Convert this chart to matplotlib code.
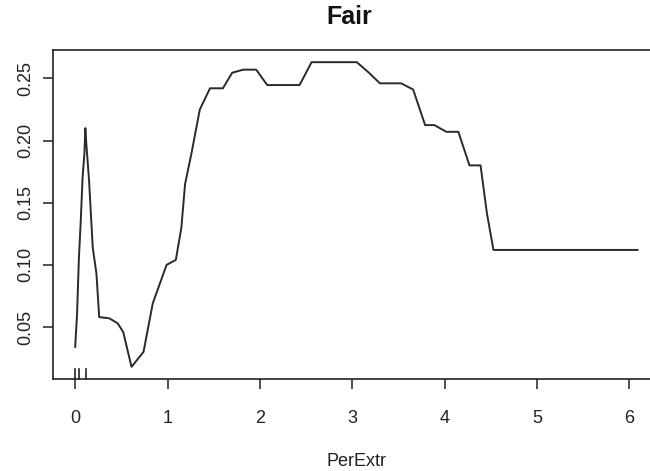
import matplotlib
matplotlib.use('Agg')
import matplotlib.pyplot as plt

# partial dependence style curve
per_extr = [0, 0.02, 0.04, 0.06, 0.08, 0.10, 0.11, 0.12, 0.15, 0.19, 0.23, 0.26,
            0.37, 0.46, 0.52, 0.61, 0.74, 0.84, 0.99, 1.09, 1.15, 1.19, 1.26, 1.35,
            1.46, 1.60, 1.70, 1.82, 1.96, 2.08, 2.43, 2.56, 3.05, 3.17, 3.30, 3.53,
            3.66, 3.79, 3.89, 4.02, 4.15, 4.27, 4.39, 4.46, 4.53, 6.09]
fair = [0.034, 0.060, 0.105, 0.135, 0.170, 0.190, 0.210, 0.198, 0.168, 0.114, 0.093, 0.058,
        0.057, 0.053, 0.046, 0.018, 0.030, 0.069, 0.100, 0.104, 0.130, 0.165, 0.190, 0.225,
        0.242, 0.242, 0.2545, 0.257, 0.257, 0.2446, 0.2446, 0.263, 0.263, 0.2553, 0.246, 0.246,
        0.241, 0.2124, 0.2124, 0.207, 0.207, 0.180, 0.180, 0.141, 0.112, 0.112]
rug_x = [0, 0.04, 0.12]

xticks = [0, 1, 2, 3, 4, 5, 6]
yticks = [0.05, 0.10, 0.15, 0.20, 0.25]
ytick_labels = ['0.05', '0.10', '0.15', '0.20', '0.25']

plt.rcParams['font.family'] = ['Liberation Sans', 'DejaVu Sans']

fig = plt.figure(figsize=(6.5, 4.71), dpi=100)
ax = fig.add_axes([52.7 / 650, 1 - 379 / 471, (660 - 52.7) / 650, (379 - 50) / 471])

ax.plot(per_extr, fair, color='#2a2a2a', lw=1.4)

# rug marks along the bottom
for rx in rug_x:
    ax.plot([rx, rx], [0, 0.03], transform=ax.get_xaxis_transform(),
            color='#222222', lw=1.2, clip_on=False)

# R style 4% padding
xr = max(per_extr) - min(per_extr)
yr = max(fair) - min(fair)
ax.set_xlim(min(per_extr) - 0.04 * xr, max(per_extr) + 0.04 * xr)
ax.set_ylim(min(fair) - 0.04 * yr, max(fair) + 0.04 * yr)

ax.set_xticks(xticks)
ax.set_xticklabels([str(t) for t in xticks])
ax.set_yticks(yticks)
ax.set_yticklabels(ytick_labels, rotation=90, va='center')
ax.tick_params(axis='both', direction='out', length=7, width=1.1, color='#222222',
               labelsize=13, labelcolor='#222222')
ax.tick_params(axis='x', pad=15)
ax.tick_params(axis='y', pad=6)

for s in ax.spines.values():
    s.set_linewidth(1.2)
    s.set_color('#222222')

ax.set_xlabel('PerExtr', fontsize=13, color='#222222', labelpad=19)
fig.text(349 / 650, 1 - 17 / 471, 'Fair', ha='center', va='center',
         fontsize=18, fontweight='bold', color='#111111')

fig.savefig('out.png', dpi=100)
